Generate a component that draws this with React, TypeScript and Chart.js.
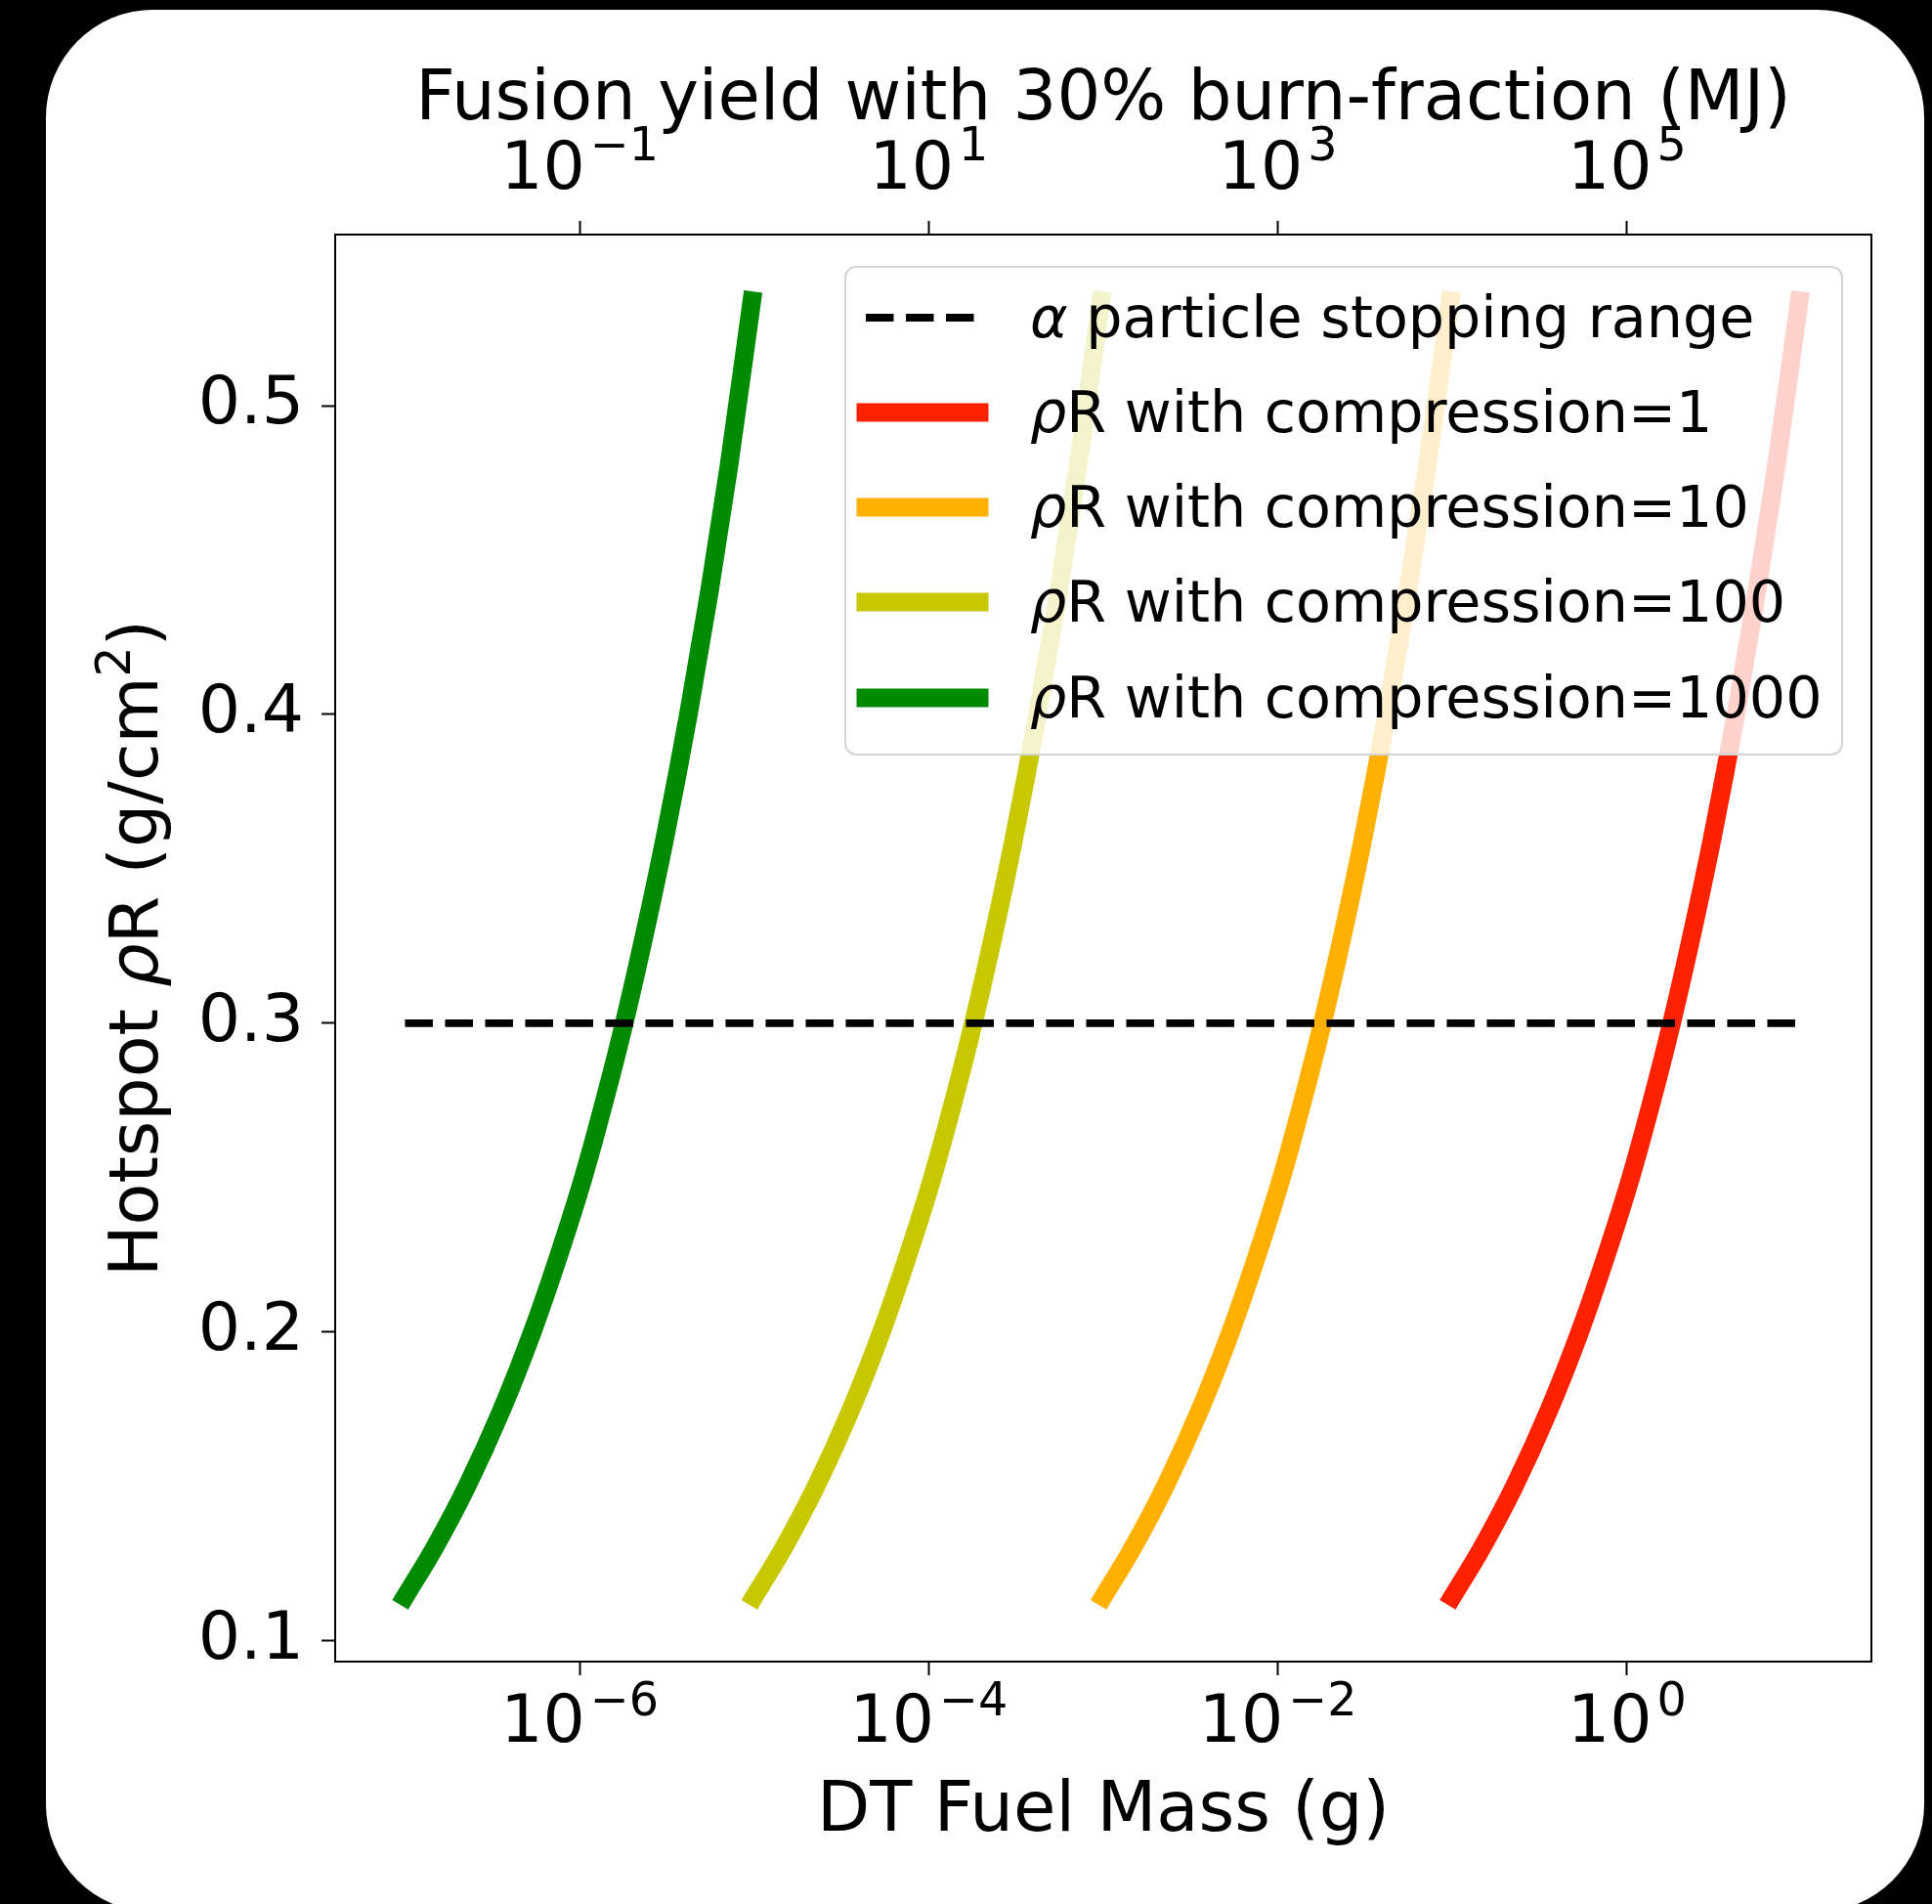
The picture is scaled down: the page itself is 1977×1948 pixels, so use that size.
import React, { useEffect, useRef } from "react";
import { Chart, registerables } from "chart.js";

Chart.register(...registerables);

// ---- data ----
const rhoRLevels = [0.1143, 0.13, 0.15, 0.175, 0.2, 0.225, 0.25, 0.275, 0.3, 0.33, 0.36, 0.4, 0.44, 0.48, 0.534];
const massC1000 = [1.0e-7, 1.47e-7, 2.26e-7, 3.59e-7, 5.36e-7, 7.62e-7, 1.05e-6, 1.39e-6, 1.8e-6, 2.38e-6, 3.08e-6, 4.2e-6, 5.55e-6, 7.15e-6, 9.7e-6];
const massC100 = [1.0e-5, 1.47e-5, 2.26e-5, 3.59e-5, 5.36e-5, 7.62e-5, 1.05e-4, 1.39e-4, 1.8e-4, 2.38e-4, 3.08e-4, 4.2e-4, 5.55e-4, 7.15e-4, 9.7e-4];
const massC10 = [1.0e-3, 1.47e-3, 2.26e-3, 3.59e-3, 5.36e-3, 7.62e-3, 1.05e-2, 1.39e-2, 1.8e-2, 2.38e-2, 3.08e-2, 4.2e-2, 5.55e-2, 7.15e-2, 9.7e-2];
const massC1 = [0.1, 0.147, 0.226, 0.359, 0.536, 0.762, 1.05, 1.39, 1.8, 2.38, 3.08, 4.2, 5.55, 7.15, 9.7];
const stoppingMass = [1e-7, 10];
const stoppingRhoR = [0.3, 0.3];

const legendLabels = [
  "α particle stopping range",
  "ρR with compression=1",
  "ρR with compression=10",
  "ρR with compression=100",
  "ρR with compression=1000",
];
const curveColors = ["#ff2200", "#ffb000", "#c8c800", "#008a00"];

const bottomTicks = [1e-6, 1e-4, 1e-2, 1];
const topTicks = [1e-1, 1e1, 1e3, 1e5];
const yTicks = [0.1, 0.2, 0.3, 0.4, 0.5];
const yieldPerGram = 1e5; // MJ per gram (30% burn fraction) – top axis mapping

const xTitle = "DT Fuel Mass (g)";
const topTitle = "Fusion yield with 30% burn-fraction (MJ)";

const FONT = "'DejaVu Sans'";

export default function App() {
  const ref = useRef<HTMLCanvasElement>(null);

  useEffect(() => {
    const canvas = ref.current!;
    const X_MIN = Math.pow(10, -7.4);
    const X_MAX = Math.pow(10, 1.4);
    const Y_MIN = 0.0933;
    const Y_MAX = 0.5554;

    const expStr = (v: number) => {
      const e = Math.round(Math.log10(v));
      return e < 0 ? "\u2212" + String(-e) : String(e);
    };

    const drawPow = (ctx: CanvasRenderingContext2D, x: number, baseline: number, v: number, size: number, raise: number) => {
      const sup = expStr(v);
      ctx.font = `${size}px ${FONT}`;
      const w1 = ctx.measureText("10").width;
      ctx.font = `${size * 0.7}px ${FONT}`;
      const w2 = ctx.measureText(sup).width;
      const gap = 5;
      const x0 = x - (w1 + gap + w2) / 2;
      ctx.textAlign = "left";
      ctx.textBaseline = "alphabetic";
      ctx.font = `${size}px ${FONT}`;
      ctx.fillText("10", x0, baseline);
      ctx.font = `${size * 0.7}px ${FONT}`;
      ctx.fillText(sup, x0 + w1 + gap, baseline - raise);
    };

    // draw a label whose first glyph is an italic greek letter
    const drawMathLabel = (ctx: CanvasRenderingContext2D, text: string, x: number, baseline: number, size: number) => {
      const first = text.charAt(0);
      const rest = text.slice(1);
      ctx.textAlign = "left";
      ctx.textBaseline = "alphabetic";
      ctx.font = `italic ${size}px ${FONT}`;
      ctx.fillText(first, x, baseline);
      const w = ctx.measureText(first).width;
      ctx.font = `${size}px ${FONT}`;
      ctx.fillText(rest, x + w, baseline);
    };

    const decor = {
      id: "decor",
      afterDraw(chart: any) {
        const ctx: CanvasRenderingContext2D = chart.ctx;
        const a = chart.chartArea;
        const xs = chart.scales.x;
        const xs2 = chart.scales.x2;
        ctx.save();
        ctx.fillStyle = "#000";
        ctx.strokeStyle = "#000";

        // frame (right spine + all)
        ctx.lineWidth = 2;
        ctx.beginPath();
        ctx.rect(a.left, a.top, a.right - a.left, a.bottom - a.top);
        ctx.stroke();

        // x tick labels
        bottomTicks.forEach((v) => drawPow(ctx, xs.getPixelForValue(v), 1782, v, 68, 27));
        topTicks.forEach((v) => drawPow(ctx, xs2.getPixelForValue(v), 193, v, 68, 29));

        const cx = (a.left + a.right) / 2;
        // titles
        ctx.textAlign = "center";
        ctx.textBaseline = "alphabetic";
        ctx.font = `70.5px ${FONT}`;
        ctx.fillText(xTitle, cx, 1873);
        ctx.fillText(topTitle, cx, 122);

        // y title: Hotspot ρR (g/cm²)
        const parts: [string, string, number][] = [
          ["Hotspot ", `70px ${FONT}`, 0],
          ["ρ", `italic 70px ${FONT}`, 0],
          ["R (g/cm", `70px ${FONT}`, 0],
          ["2", `49px ${FONT}`, 28],
          [")", `70px ${FONT}`, 0],
        ];
        let total = 0;
        const widths = parts.map(([t, f]) => {
          ctx.font = f;
          const w = ctx.measureText(t).width;
          total += w;
          return w;
        });
        ctx.save();
        ctx.translate(161, (a.top + a.bottom) / 2);
        ctx.rotate(-Math.PI / 2);
        ctx.textAlign = "left";
        let px = -total / 2;
        parts.forEach(([t, f, r], i) => {
          ctx.font = f;
          ctx.fillText(t, px, -r);
          px += widths[i];
        });
        ctx.restore();

        // legend
        const L = { x: 865, y: 273, w: 1020, h: 499, r: 11 };
        ctx.beginPath();
        ctx.roundRect(L.x, L.y, L.w, L.h, L.r);
        ctx.fillStyle = "rgba(255,255,255,0.8)";
        ctx.fill();
        ctx.lineWidth = 2;
        ctx.strokeStyle = "#d4d4d4";
        ctx.stroke();

        const rowY = [325, 422, 519, 616, 714];
        const hx0 = 886;
        const hx1 = 1002;
        rowY.forEach((ry, i) => {
          ctx.beginPath();
          ctx.moveTo(hx0, ry);
          ctx.lineTo(hx1, ry);
          if (i === 0) {
            ctx.strokeStyle = "#000";
            ctx.lineWidth = 7.8;
            ctx.lineCap = "butt";
            ctx.setLineDash([28.5, 12.5]);
          } else {
            ctx.strokeStyle = curveColors[i - 1];
            ctx.lineWidth = 19;
            ctx.lineCap = "square";
            ctx.setLineDash([]);
          }
          ctx.stroke();
          ctx.setLineDash([]);
          ctx.fillStyle = "#000";
          drawMathLabel(ctx, legendLabels[i], 1054, ry + 20, 58.7);
        });

        ctx.restore();
      },
    };

    const curveMasses = [massC1, massC10, massC100, massC1000];
    const curveSets = curveMasses.map((ms, i) => ({
      label: legendLabels[i + 1],
      data: ms.map((m, j) => ({ x: m, y: rhoRLevels[j] })),
      borderColor: curveColors[i],
      backgroundColor: curveColors[i],
      borderWidth: 19,
      borderCapStyle: "square" as const,
      cubicInterpolationMode: "monotone" as const,
      pointRadius: 0,
      fill: false,
      xAxisID: "x",
      yAxisID: "y",
    }));

    const tickGrid = {
      display: true,
      drawOnChartArea: false,
      drawTicks: true,
      tickLength: 14,
      tickWidth: 2,
      tickColor: "#000",
    };
    const border = { display: true, color: "#000", width: 2 };

    const chart = new Chart(canvas, {
      type: "line",
      data: {
        datasets: [
          {
            label: legendLabels[0],
            data: stoppingMass.map((m, i) => ({ x: m, y: stoppingRhoR[i] })),
            borderColor: "#000",
            backgroundColor: "#000",
            borderWidth: 7.8,
            borderDash: [28.5, 12.5],
            borderCapStyle: "butt",
            pointRadius: 0,
            fill: false,
            xAxisID: "x",
            yAxisID: "y",
          },
          ...curveSets,
        ],
      },
      options: {
        responsive: false,
        animation: false,
        devicePixelRatio: 1,
        events: [],
        layout: { padding: { left: 0, top: 0, right: 62, bottom: 0 } },
        plugins: { legend: { display: false }, tooltip: { enabled: false } },
        scales: {
          x: {
            type: "logarithmic",
            position: "bottom",
            min: X_MIN,
            max: X_MAX,
            afterBuildTicks: (s: any) => {
              s.ticks = bottomTicks.map((v) => ({ value: v }));
            },
            ticks: { display: false },
            grid: tickGrid,
            border,
            afterFit: (s: any) => {
              s.height = 248;
            },
          },
          x2: {
            type: "logarithmic",
            axis: "x",
            position: "top",
            min: X_MIN * yieldPerGram,
            max: X_MAX * yieldPerGram,
            afterBuildTicks: (s: any) => {
              s.ticks = topTicks.map((v) => ({ value: v }));
            },
            ticks: { display: false },
            grid: tickGrid,
            border,
            afterFit: (s: any) => {
              s.height = 240;
            },
          },
          y: {
            type: "linear",
            position: "left",
            min: Y_MIN,
            max: Y_MAX,
            afterBuildTicks: (s: any) => {
              s.ticks = yTicks.map((v) => ({ value: v }));
            },
            ticks: {
              color: "#000",
              font: { family: "DejaVu Sans", size: 68 },
              padding: 18,
              autoSkip: false,
              callback: (v: any) => Number(v).toFixed(1),
            },
            grid: tickGrid,
            border,
            afterFit: (s: any) => {
              s.width = 343;
            },
          },
        },
      } as any,
      plugins: [decor],
    });

    return () => chart.destroy();
  }, []);

  return (
    <div style={{ position: "absolute", left: 0, top: 0, width: 1977, height: 1948, background: "#000", overflow: "hidden" }}>
      <div style={{ position: "absolute", left: 47, top: 10, width: 1922, height: 1946, background: "#fff", borderRadius: 110 }} />
      <canvas ref={ref} width={1977} height={1948} style={{ position: "absolute", left: 0, top: 0, width: 1977, height: 1948 }} />
    </div>
  );
}
